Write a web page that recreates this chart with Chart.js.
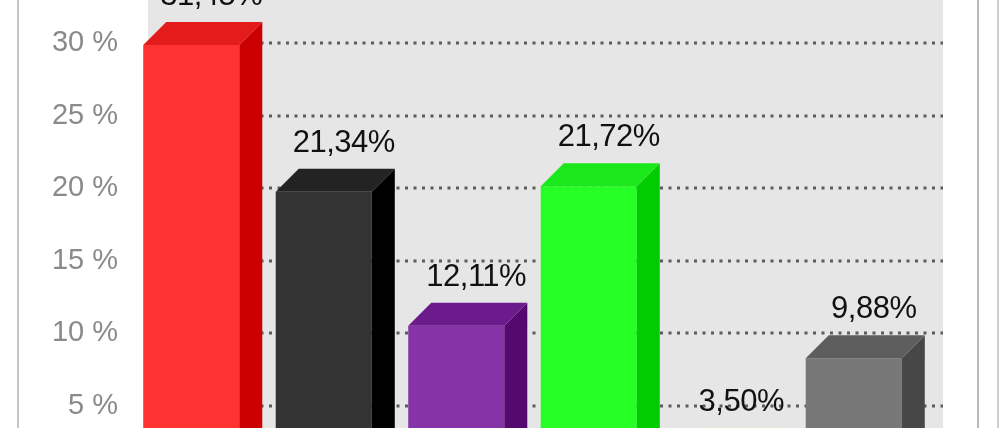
<!DOCTYPE html>
<html>
<head>
<meta charset="utf-8">
<script src="https://cdn.jsdelivr.net/npm/chart.js@4.4.1/dist/chart.umd.min.js"></script>
<style>
  html, body { margin: 0; padding: 0; background: #ffffff; overflow: hidden; }
  #wrap { position: relative; width: 1000px; height: 428px; }
</style>
</head>
<body>
<div id="wrap"><canvas id="c" width="1000" height="428"></canvas></div>
<script>
// ---- data ----
const categories = ['Rot', 'Schwarz', 'Lila', 'Grün', 'Gelb', 'Grau'];
const values = [31.45, 21.34, 12.11, 21.72, 3.50, 9.88];
const tickValues = [5, 10, 15, 20, 25, 30];
const frontColors = ['#ff3232', '#333333', '#8633a8', '#26ff26', '#ffff9a', '#777777'];
const topColors   = ['#e41b1b', '#232323', '#6b1b8b', '#1be81b', '#f3ee9c', '#5d5d5d'];
const sideColors  = ['#cc0000', '#000000', '#55096f', '#00cc00', '#d9d071', '#474747'];

// ---- 3D geometry ----
const DX = 23, DY = 23;
const BACK_MIN = 3.49, BACK_MAX = 32.96;          // back wall (grid / ticks)
const SHIFT = DY * (BACK_MAX - BACK_MIN) / 428;    // value offset of front plane
const fmt = v => v.toFixed(2).replace('.', ',') + '%';

function poly(ctx, pts) {
  ctx.beginPath();
  ctx.moveTo(pts[0][0], pts[0][1]);
  for (let k = 1; k < pts.length; k++) ctx.lineTo(pts[k][0], pts[k][1]);
  ctx.closePath();
  ctx.fill();
}

const threeD = {
  id: 'threeD',
  beforeDatasetsDraw(chart) {
    const { ctx, chartArea: a, scales } = chart;
    ctx.save();
    ctx.fillStyle = '#e6e6e6';
    ctx.fillRect(a.left + DX, 0, a.right - a.left, chart.height);
    ctx.strokeStyle = '#5c5c5c';
    ctx.lineWidth = 3;
    ctx.setLineDash([3, 5.5]);
    scales.y.ticks.forEach(t => {
      const y = Math.round(scales.y.getPixelForValue(t.value));
      ctx.beginPath();
      ctx.moveTo(a.left + DX + 2, y);
      ctx.lineTo(a.right + DX, y);
      ctx.stroke();
    });
    ctx.restore();
  },
  afterDatasetsDraw(chart) {
    const { ctx } = chart;
    const meta = chart.getDatasetMeta(0);
    ctx.save();
    meta.data.forEach((bar, i) => {
      const { x, y, base, width } = bar.getProps(['x', 'y', 'base', 'width'], true);
      const l = x - width / 2, r = x + width / 2;
      const b = Math.min(base, chart.height + DY + 5);
      ctx.fillStyle = sideColors[i];
      poly(ctx, [[r, y], [r + DX, y - DY], [r + DX, b - DY], [r, b]]);
      ctx.fillStyle = topColors[i];
      poly(ctx, [[l, y], [l + DX, y - DY], [r + DX, y - DY], [r, y]]);
      ctx.fillStyle = '#111111';
      ctx.font = '31px "Liberation Sans", Arial, sans-serif';
      try { ctx.letterSpacing = '-0.5px'; } catch (e) {}
      ctx.textAlign = 'center';
      ctx.textBaseline = 'alphabetic';
      ctx.fillText(fmt(values[i]), x + DX - 3, y - DY - 17);
    });
    ctx.restore();
  },
  afterDraw(chart) {
    const { ctx } = chart;
    ctx.save();
    ctx.fillStyle = '#c6c6c6';
    ctx.fillRect(17, 0, 2, chart.height);
    ctx.fillStyle = '#b9b9b9';
    ctx.fillRect(977, 0, 2, chart.height);
    ctx.fillStyle = '#cfcfcf';
    ctx.fillRect(997, 0, 2, chart.height);
    ctx.restore();
  }
};

new Chart(document.getElementById('c'), {
  type: 'bar',
  data: {
    labels: categories,
    datasets: [{
      data: values,
      yAxisID: 'yf',
      backgroundColor: frontColors,
      borderWidth: 0,
      barPercentage: 0.725,
      categoryPercentage: 1.0
    }]
  },
  options: {
    responsive: false,
    devicePixelRatio: 1,
    animation: false,
    events: [],
    layout: { padding: { left: 0, right: 80, top: 0, bottom: 0 } },
    plugins: { legend: { display: false }, tooltip: { enabled: false } },
    scales: {
      x: { display: false },
      yf: {
        display: false,
        min: BACK_MIN + SHIFT,
        max: BACK_MAX + SHIFT
      },
      y: {
        position: 'left',
        min: BACK_MIN,
        max: BACK_MAX,
        grid: { display: false, drawTicks: false },
        border: { display: false },
        afterBuildTicks: s => { s.ticks = tickValues.map(v => ({ value: v })); },
        afterFit: s => { s.width = 125; s.paddingTop = 0; s.paddingBottom = 0; },
        ticks: {
          autoSkip: false,
          padding: 7,
          color: '#8a8a8a',
          font: { family: '"Liberation Sans", Arial, sans-serif', size: 29 },
          callback: v => v + ' %'
        }
      }
    }
  },
  plugins: [threeD]
});
</script>
</body>
</html>
